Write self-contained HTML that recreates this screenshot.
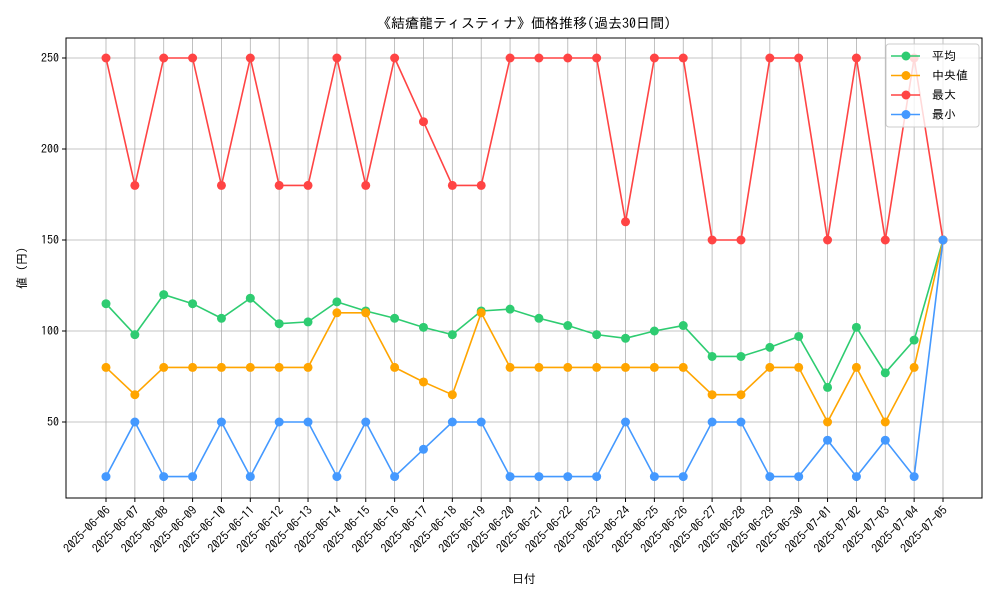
<!DOCTYPE html>
<html><head><meta charset="utf-8"><style>
body{margin:0;background:#fff;}
text{font-family:"IPAGothic","Liberation Sans","Noto Sans CJK JP",sans-serif;fill:#000;}
</style></head><body>
<svg id="c" width="1000" height="600" xmlns="http://www.w3.org/2000/svg"></svg>
<script>
const dates=["2025-06-06","2025-06-07","2025-06-08","2025-06-09","2025-06-10","2025-06-11","2025-06-12","2025-06-13","2025-06-14","2025-06-15","2025-06-16","2025-06-17","2025-06-18","2025-06-19","2025-06-20","2025-06-21","2025-06-22","2025-06-23","2025-06-24","2025-06-25","2025-06-26","2025-06-27","2025-06-28","2025-06-29","2025-06-30","2025-07-01","2025-07-02","2025-07-03","2025-07-04","2025-07-05"];
const avgVals=[115,98,120,115,107,118,104,105,116,111,107,102,98,111,112,107,103,98,96,100,103,86,86,91,97,69,102,77,95,150];
const medVals=[80,65,80,80,80,80,80,80,110,110,80,72,65,110,80,80,80,80,80,80,80,65,65,80,80,50,80,50,80,150];
const maxVals=[250,180,250,250,180,250,180,180,250,180,250,215,180,180,250,250,250,250,160,250,250,150,150,250,250,150,250,150,250,150];
const minVals=[20,50,20,20,50,20,50,50,20,50,20,35,50,50,20,20,20,20,50,20,20,50,50,20,20,40,20,40,20,150];
const yTicks=[50,100,150,200,250];
const seriesNames=["平均","中央値","最大","最小"];
const NS="http://www.w3.org/2000/svg";
const svg=document.getElementById('c');
const L=66,R=982,T=38,B=498;
const xs=i=>106+i*(943-106)/(dates.length-1);
const ys=v=>513-v*1.82;
function el(t,a,p){const e=document.createElementNS(NS,t);for(const k in a)e.setAttribute(k,a[k]);(p||svg).appendChild(e);return e;}
yTicks.forEach(v=>{const g=el('line',{x1:L,x2:R,y1:ys(v),y2:ys(v),stroke:'#b0b0b0','stroke-width':0.8});

el('line',{x1:L-4,x2:L,y1:ys(v),y2:ys(v),stroke:'#000'});
const t=el('text',{x:L-7,y:ys(v)+4,'text-anchor':'end','font-size':12});t.textContent=v;
});
dates.forEach((d,i)=>{const g=el('line',{x1:xs(i),x2:xs(i),y1:T,y2:B,stroke:'#b0b0b0','stroke-width':0.8});

el('line',{x1:xs(i),x2:xs(i),y1:B,y2:B+4,stroke:'#000'});
const ax=xs(i)+5,ay=B+13;
const t=el('text',{x:ax,y:ay,'text-anchor':'end','font-size':12,transform:`rotate(-45 ${ax} ${ay})`});t.textContent=d;
});
const fr=el('rect',{x:L,y:T,width:R-L,height:B-T,fill:'none',stroke:'#000','stroke-width':1});

const series=[[avgVals,'#2ecc71','avg'],[medVals,'#ffa500','median'],[maxVals,'#ff4444','max'],[minVals,'#4499ff','min']];
series.forEach(([vals,col,n])=>{const g=el('g',{});
el('polyline',{points:vals.map((v,i)=>xs(i)+','+ys(v)).join(' '),fill:'none',stroke:col,'stroke-width':1.6},g);
vals.forEach((v,i)=>{const c=el('circle',{cx:xs(i),cy:ys(v),r:4.5,fill:col},g);});});
const lg=el('g',{});
el('rect',{x:886,y:44,width:93,height:83,rx:3,fill:'#fff','fill-opacity':0.8,stroke:'#ccc'},lg);
series.forEach(([v,col,n],k)=>{const y=56+k*19.5;const e=el('g',{},lg);
el('line',{x1:891,x2:920,y1:y,y2:y,stroke:col,'stroke-width':1.6},e);el('circle',{cx:906,cy:y,r:4.5,fill:col},e);
const t=el('text',{x:932,y:y+4,'font-size':12},e);t.textContent=seriesNames[k];});
const ti=el('text',{x:524,y:28,'text-anchor':'middle','font-size':14});ti.textContent='《結瘡龍ティスティナ》価格推移(過去30日間)';
const xt=el('text',{x:524,y:583,'text-anchor':'middle','font-size':12});xt.textContent='日付';
const yt=el('text',{x:26,y:268,'text-anchor':'middle','font-size':12,transform:'rotate(-90 26 268)'});yt.textContent='値 (円)';
</script>
</body></html>
